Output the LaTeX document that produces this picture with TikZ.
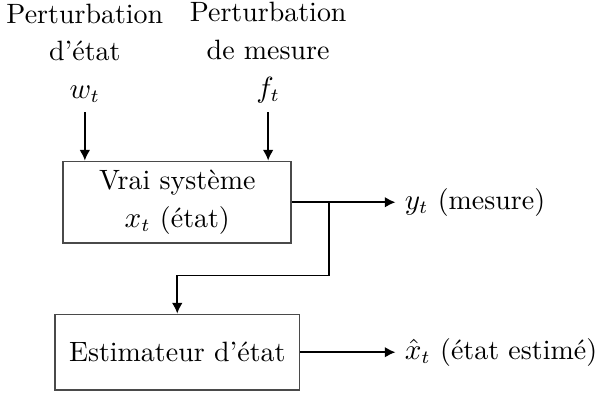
\documentclass[tikz,border=0pt]{standalone}
\usepackage{amsmath}
\usetikzlibrary{arrows.meta, positioning, calc}
\definecolor{inkbox}{HTML}{4A4A4A}
\definecolor{inktext}{HTML}{000000}
\newcommand{\blocbox}[5]{%
  \node[draw=inkbox, line width=0.6pt, minimum width=#4cm,
        minimum height=1cm, align=center, text=inktext]
        (#1) at (#2,#3) {#5};}

\begin{document}
\begin{tikzpicture}[font=\fontsize{10.5}{12.6}\selectfont,
    fleche/.style={-{Latex[length=4pt, width=4pt]}, line width=0.6pt}]
      \useasboundingbox (0,0) rectangle (8.0,-5.175);
      \blocbox{sys}{2.34}{-2.67}{3.01}{Vrai système\\[1.5pt] $x_t$ (état)}
      \blocbox{est}{2.34}{-4.65}{3.23}{Estimateur d'état}
      \node[anchor=south, align=center] (wlbl) at (1.12,-1.48)
        {Perturbation\\[1.5pt] d'état\\[1.5pt] $w_t$};
      \node[anchor=south, align=center] (flbl) at (3.54,-1.48)
        {Perturbation\\[1.5pt] de mesure\\[1.5pt] $f_t$};
      \node[anchor=west] (ylbl) at (5.22,-2.67) {$y_t$ (mesure)};
      \node[anchor=west] (xlbl) at (5.22,-4.65) {$\hat{x}_t$ (état estimé)};
      \coordinate (branche) at (4.34,-2.67);
      \draw[fleche] (wlbl.south) -- (wlbl.south |- sys.north);
      \draw[fleche] (flbl.south) -- (flbl.south |- sys.north);
      \draw[fleche] (sys.east) -- (ylbl.west);
      \draw[fleche] (branche) |- ($(est.north)+(0,0.5)$) -- (est.north);
      \draw[fleche] (est.east) -- (xlbl.west);
    \end{tikzpicture}
\end{document}
